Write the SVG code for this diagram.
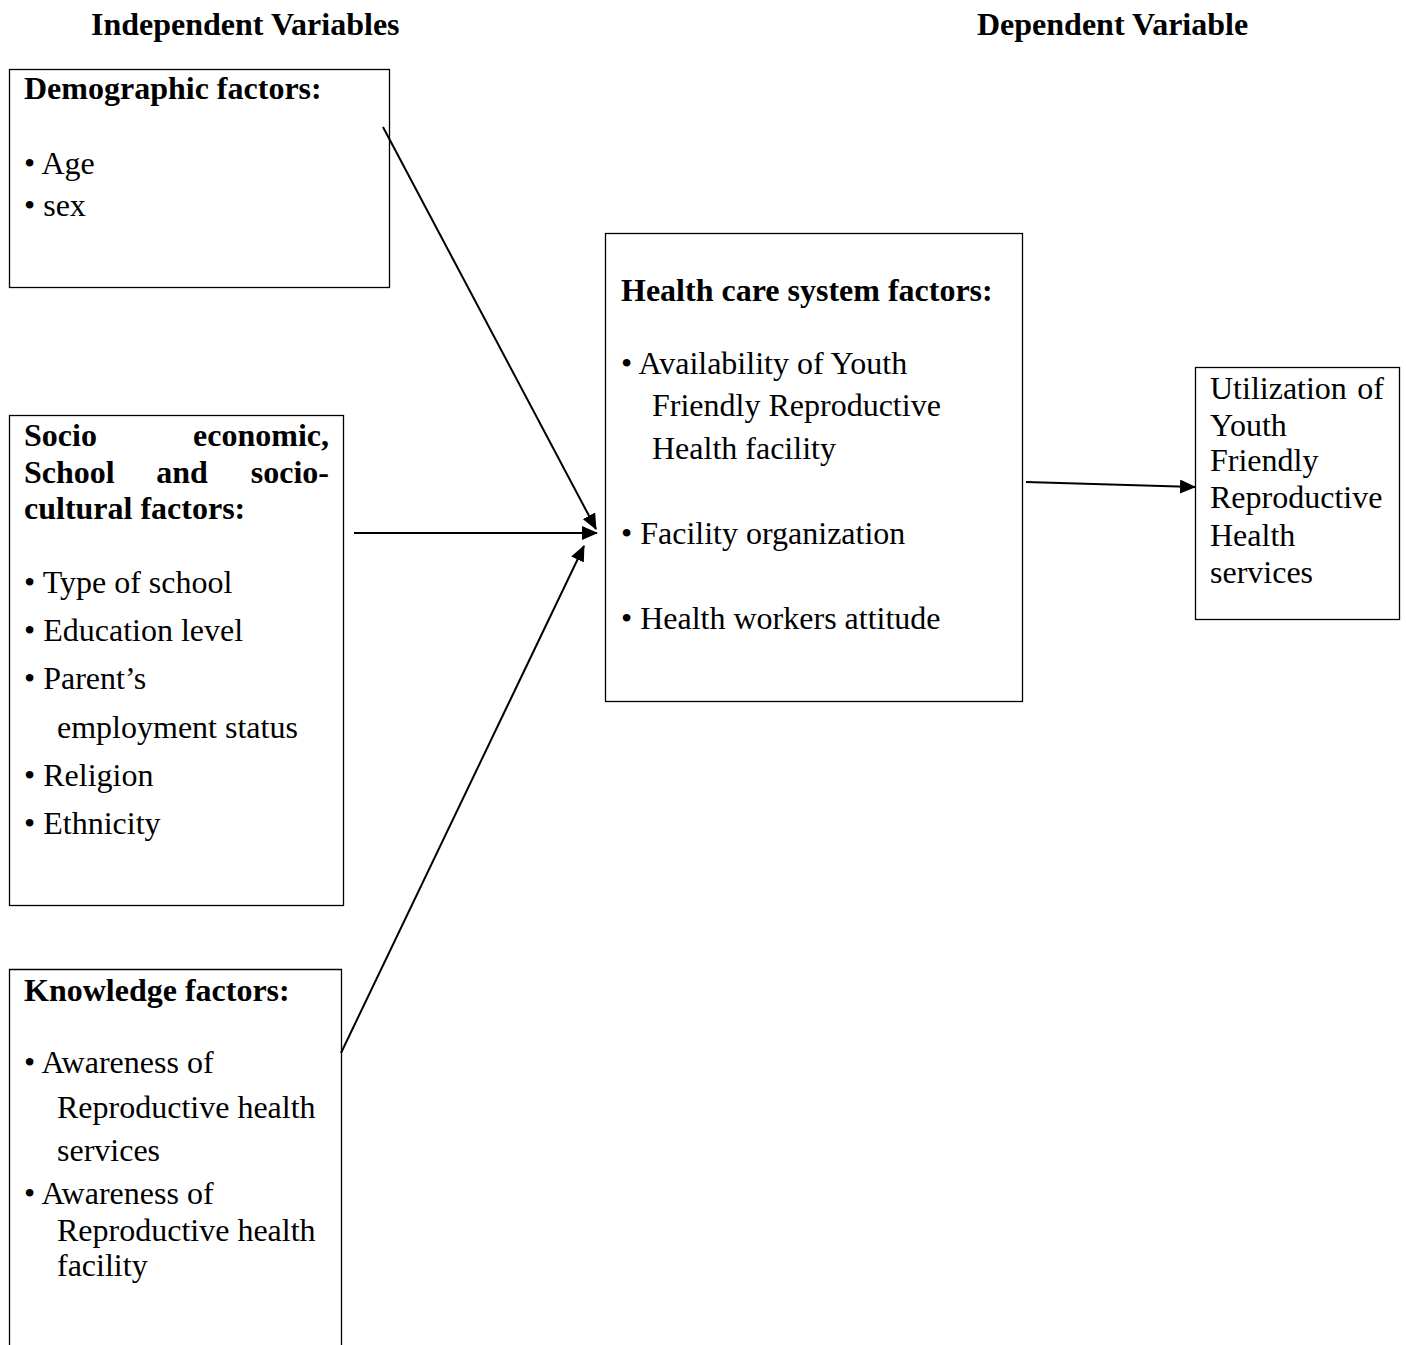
<svg xmlns="http://www.w3.org/2000/svg" width="1406" height="1345" viewBox="0 0 1406 1345">
<style>
text{font-family:"Liberation Serif","Times New Roman",serif;fill:#000;}
.b{font-weight:bold;font-size:32px;}
.r{font-size:32px;}
.box{fill:#fff;stroke:#000;stroke-width:1.3;}
.ln{stroke:#000;stroke-width:2;fill:none;}
</style>
<defs>
<marker id="ah" markerWidth="16" markerHeight="14" refX="15" refY="7" orient="auto" markerUnits="userSpaceOnUse">
<path d="M0,0 L16,7 L0,14 Z" fill="#000"/>
</marker>
</defs>
<rect width="1406" height="1345" fill="#fff"/>
<text class="b" x="91" y="35">Independent Variables</text>
<text class="b" x="977" y="35">Dependent Variable</text>

<g id="demographic">
<rect class="box" x="9.5" y="69.5" width="380" height="218"/>
<text class="b" x="24" y="99">Demographic factors:</text>
<text class="r" x="24" y="174">• Age</text>
<text class="r" x="24" y="216">• sex</text>
</g>

<g id="socio">
<rect class="box" x="9.5" y="415.5" width="334" height="490"/>
<text class="b" x="24" y="446">Socio</text>
<text class="b" x="329" y="446" text-anchor="end">economic,</text>
<text class="b" x="24" y="483">School</text>
<text class="b" x="182" y="483" text-anchor="middle">and</text>
<text class="b" x="329" y="483" text-anchor="end">socio-</text>
<text class="b" x="24" y="519">cultural factors:</text>
<text class="r" x="24" y="593">• Type of school</text>
<text class="r" x="24" y="641">• Education level</text>
<text class="r" x="24" y="689">• Parent’s</text>
<text class="r" x="57" y="738">employment status</text>
<text class="r" x="24" y="786">• Religion</text>
<text class="r" x="24" y="834">• Ethnicity</text>
</g>

<g id="knowledge">
<path class="box" d="M9.5,1350 V969.5 H341.5 V1350"/>
<text class="b" x="24" y="1001">Knowledge factors:</text>
<text class="r" x="24" y="1073">• Awareness of</text>
<text class="r" x="57" y="1118">Reproductive health</text>
<text class="r" x="57" y="1161">services</text>
<text class="r" x="24" y="1204">• Awareness of</text>
<text class="r" x="57" y="1241">Reproductive health</text>
<text class="r" x="57" y="1276">facility</text>
</g>

<g id="healthcare">
<rect class="box" x="605.5" y="233.5" width="417" height="468"/>
<text class="b" x="621" y="301">Health care system factors:</text>
<text class="r" x="621" y="374">• Availability of Youth</text>
<text class="r" x="652" y="416">Friendly Reproductive</text>
<text class="r" x="652" y="459">Health facility</text>
<text class="r" x="621" y="544">• Facility organization</text>
<text class="r" x="621" y="629">• Health workers attitude</text>
</g>

<g id="utilization">
<rect class="box" x="1195.5" y="367.5" width="204" height="252"/>
<text class="r" x="1210" y="399">Utilization</text>
<text class="r" x="1384" y="399" text-anchor="end">of</text>
<text class="r" x="1210" y="436">Youth</text>
<text class="r" x="1210" y="471">Friendly</text>
<text class="r" x="1210" y="508">Reproductive</text>
<text class="r" x="1210" y="546">Health</text>
<text class="r" x="1210" y="583">services</text>
</g>

<g id="connectors">
<line class="ln" x1="383" y1="127" x2="596" y2="529" marker-end="url(#ah)"/>
<line class="ln" x1="354" y1="533" x2="597" y2="533" marker-end="url(#ah)"/>
<line class="ln" x1="341" y1="1053" x2="584" y2="546" marker-end="url(#ah)"/>
<line class="ln" x1="1026" y1="482" x2="1195" y2="487" marker-end="url(#ah)"/>
</g>
</svg>
